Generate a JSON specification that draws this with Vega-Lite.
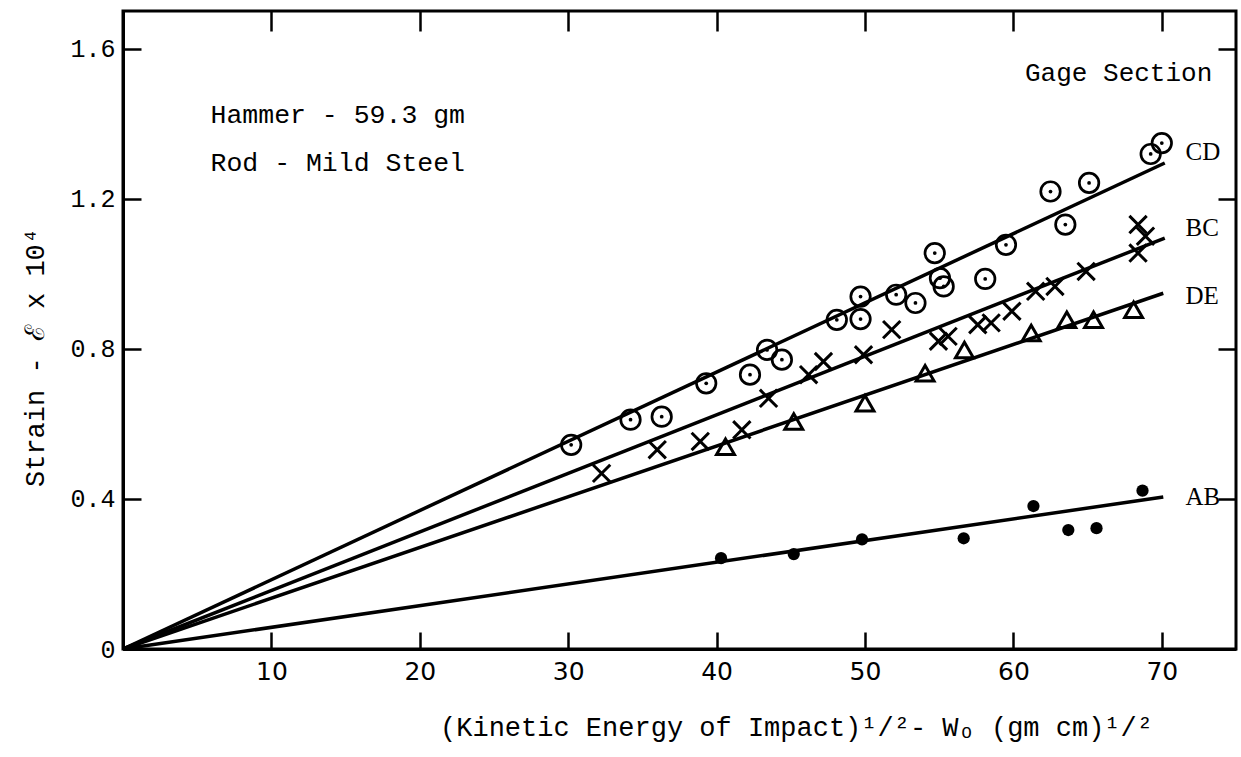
{
  "$schema": "https://vega.github.io/schema/vega-lite/v6.json",
  "width": 1113,
  "height": 638,
  "autosize": "none",
  "padding": {"left": 123, "top": 11, "right": 5, "bottom": 108},
  "background": "white",
  "config": {
    "view": {"stroke": "black", "strokeWidth": 3},
    "axis": {
      "domainColor": "black", "domainWidth": 3, "tickColor": "black", "tickWidth": 2.5,
      "labelColor": "black", "titleColor": "black", "grid": false
    }
  },
  "datasets": {
    "pts": [
      {"series": "CD", "x": 30.2, "y": 0.544},
      {"series": "CD", "x": 34.2, "y": 0.611},
      {"series": "CD", "x": 36.3, "y": 0.619},
      {"series": "CD", "x": 39.3, "y": 0.708},
      {"series": "CD", "x": 42.25, "y": 0.731},
      {"series": "CD", "x": 43.4, "y": 0.797},
      {"series": "CD", "x": 44.4, "y": 0.771},
      {"series": "CD", "x": 48.1, "y": 0.877},
      {"series": "CD", "x": 49.7, "y": 0.939},
      {"series": "CD", "x": 49.7, "y": 0.879},
      {"series": "CD", "x": 52.1, "y": 0.944},
      {"series": "CD", "x": 53.4, "y": 0.922},
      {"series": "CD", "x": 54.7, "y": 1.055},
      {"series": "CD", "x": 55.05, "y": 0.988},
      {"series": "CD", "x": 55.3, "y": 0.966},
      {"series": "CD", "x": 58.1, "y": 0.986},
      {"series": "CD", "x": 59.5, "y": 1.077},
      {"series": "CD", "x": 62.5, "y": 1.219},
      {"series": "CD", "x": 63.5, "y": 1.131},
      {"series": "CD", "x": 65.1, "y": 1.242},
      {"series": "CD", "x": 69.25, "y": 1.319},
      {"series": "CD", "x": 70.0, "y": 1.348},
      {"series": "BC", "x": 32.25, "y": 0.468},
      {"series": "BC", "x": 36.0, "y": 0.531},
      {"series": "BC", "x": 38.9, "y": 0.553},
      {"series": "BC", "x": 41.7, "y": 0.584},
      {"series": "BC", "x": 43.5, "y": 0.668},
      {"series": "BC", "x": 46.2, "y": 0.731},
      {"series": "BC", "x": 47.2, "y": 0.766},
      {"series": "BC", "x": 49.9, "y": 0.784},
      {"series": "BC", "x": 51.8, "y": 0.851},
      {"series": "BC", "x": 54.95, "y": 0.82},
      {"series": "BC", "x": 55.6, "y": 0.833},
      {"series": "BC", "x": 57.6, "y": 0.864},
      {"series": "BC", "x": 58.5, "y": 0.869},
      {"series": "BC", "x": 59.9, "y": 0.9},
      {"series": "BC", "x": 61.5, "y": 0.953},
      {"series": "BC", "x": 62.8, "y": 0.966},
      {"series": "BC", "x": 64.9, "y": 1.006},
      {"series": "BC", "x": 68.4, "y": 1.131},
      {"series": "BC", "x": 68.9, "y": 1.1},
      {"series": "BC", "x": 68.4, "y": 1.055},
      {"series": "DE", "x": 40.6, "y": 0.539},
      {"series": "DE", "x": 45.2, "y": 0.606},
      {"series": "DE", "x": 50.0, "y": 0.655},
      {"series": "DE", "x": 54.05, "y": 0.735},
      {"series": "DE", "x": 56.7, "y": 0.797},
      {"series": "DE", "x": 61.2, "y": 0.842},
      {"series": "DE", "x": 63.6, "y": 0.877},
      {"series": "DE", "x": 65.4, "y": 0.877},
      {"series": "DE", "x": 68.1, "y": 0.904},
      {"series": "AB", "x": 40.3, "y": 0.242},
      {"series": "AB", "x": 45.2, "y": 0.253},
      {"series": "AB", "x": 49.8, "y": 0.292},
      {"series": "AB", "x": 56.65, "y": 0.295},
      {"series": "AB", "x": 61.35, "y": 0.381},
      {"series": "AB", "x": 63.7, "y": 0.317},
      {"series": "AB", "x": 65.6, "y": 0.322},
      {"series": "AB", "x": 68.7, "y": 0.422}
    ],
    "fits": [
      {"series": "CD", "x": 0, "y": 0},
      {"series": "CD", "x": 70.2, "y": 1.295},
      {"series": "BC", "x": 0, "y": 0},
      {"series": "BC", "x": 70.2, "y": 1.095},
      {"series": "DE", "x": 0, "y": 0},
      {"series": "DE", "x": 70.1, "y": 0.948},
      {"series": "AB", "x": 0, "y": 0},
      {"series": "AB", "x": 70.1, "y": 0.405}
    ],
    "seriesLabels": [
      {"text": "CD", "x": 71.6, "y": 1.323},
      {"text": "BC", "x": 71.6, "y": 1.123},
      {"text": "DE", "x": 71.6, "y": 0.941},
      {"text": "AB", "x": 71.6, "y": 0.405}
    ],
    "notes": [
      {"text": "Hammer - 59.3 gm", "x": 5.9, "y": 1.424},
      {"text": "Rod - Mild Steel", "x": 5.9, "y": 1.296}
    ],
    "heading": [
      {"text": "Gage Section", "x": 73.4, "y": 1.535}
    ]
  },
  "layer": [
    {
      "data": {"name": "fits"},
      "mark": {"type": "line", "color": "black", "strokeWidth": 3.5},
      "encoding": {
        "x": {
          "field": "x", "type": "quantitative",
          "scale": {"domain": [0, 75], "nice": false, "zero": true},
          "axis": {
            "orient": "bottom", "values": [10, 20, 30, 40, 50, 60, 70],
            "ticks": false, "labelPadding": 10,
            "labelFont": "Liberation Sans Narrow, DejaVu Sans", "labelFontSize": 25,
            "title": "(Kinetic Energy of Impact)¹/²- Wₒ (gm cm)¹/²",
            "titleFont": "Liberation Mono", "titleFontSize": 27, "titleFontWeight": "normal",
            "titleX": 673, "titleY": 86, "titleBaseline": "alphabetic"
          }
        },
        "y": {
          "field": "y", "type": "quantitative",
          "scale": {"domain": [0, 1.7], "nice": false},
          "axis": {
            "orient": "left", "values": [0, 0.4, 0.8, 1.2, 1.6],
            "labelExpr": "datum.value == 0 ? '0' : format(datum.value, '.1f')",
            "ticks": false, "labelPadding": 8,
            "labelFont": "Liberation Mono", "labelFontSize": 25,
            "title": "Strain - ℰ x 10⁴",
            "titleFont": "Liberation Mono", "titleFontSize": 27, "titleFontWeight": "normal",
            "titleX": -74, "titleY": 346
          }
        },
        "detail": {"field": "series"}
      }
    },
    {
      "data": {"name": "pts"},
      "transform": [{"filter": "datum.series == 'CD'"}],
      "mark": {"type": "point", "shape": "circle", "filled": false, "color": "black", "strokeWidth": 2.7, "size": 380, "opacity": 1},
      "encoding": {
        "x": {"field": "x", "type": "quantitative",
          "axis": {"orient": "top", "values": [10, 20, 30, 40, 50, 60, 70], "labels": false, "tickSize": 20, "offset": -20, "domain": false, "title": null}},
        "y": {"field": "y", "type": "quantitative",
          "axis": {"orient": "right", "values": [0.4, 0.8, 1.2, 1.6], "labels": false, "tickSize": 18, "offset": -18, "domain": false, "title": null}}
      }
    },
    {
      "data": {"name": "pts"},
      "transform": [{"filter": "datum.series == 'CD'"}],
      "mark": {"type": "point", "shape": "circle", "filled": true, "color": "black", "size": 14, "opacity": 1},
      "encoding": {
        "x": {"field": "x", "type": "quantitative",
          "axis": {"orient": "bottom", "values": [10, 20, 30, 40, 50, 60, 70], "labels": false, "tickSize": 17, "offset": -17, "domain": false, "title": null}},
        "y": {"field": "y", "type": "quantitative",
          "axis": {"orient": "left", "values": [0.4, 0.8, 1.2, 1.6], "labels": false, "tickSize": 18, "offset": -18, "domain": false, "title": null}}
      }
    },
    {
      "data": {"name": "pts"},
      "transform": [{"filter": "datum.series == 'BC'"}],
      "mark": {"type": "point", "shape": "M-1,-1L1,1M-1,1L1,-1", "filled": false, "color": "black", "strokeWidth": 3, "size": 300, "opacity": 1},
      "encoding": {
        "x": {"field": "x", "type": "quantitative", "axis": null},
        "y": {"field": "y", "type": "quantitative", "axis": null}
      }
    },
    {
      "data": {"name": "pts"},
      "transform": [{"filter": "datum.series == 'DE'"}],
      "mark": {"type": "point", "shape": "triangle-up", "filled": false, "color": "black", "strokeWidth": 3, "size": 320, "opacity": 1},
      "encoding": {
        "x": {"field": "x", "type": "quantitative", "axis": null},
        "y": {"field": "y", "type": "quantitative", "axis": null}
      }
    },
    {
      "data": {"name": "pts"},
      "transform": [{"filter": "datum.series == 'AB'"}],
      "mark": {"type": "point", "shape": "circle", "filled": true, "color": "black", "size": 150, "opacity": 1},
      "encoding": {
        "x": {"field": "x", "type": "quantitative", "axis": null},
        "y": {"field": "y", "type": "quantitative", "axis": null}
      }
    },
    {
      "data": {"name": "seriesLabels"},
      "mark": {"type": "text", "align": "left", "baseline": "middle", "font": "Liberation Serif", "fontSize": 25, "color": "black"},
      "encoding": {
        "x": {"field": "x", "type": "quantitative", "axis": null},
        "y": {"field": "y", "type": "quantitative", "axis": null},
        "text": {"field": "text"}
      }
    },
    {
      "data": {"name": "notes"},
      "mark": {"type": "text", "align": "left", "baseline": "middle", "font": "Liberation Mono", "fontSize": 26.5, "color": "black"},
      "encoding": {
        "x": {"field": "x", "type": "quantitative", "axis": null},
        "y": {"field": "y", "type": "quantitative", "axis": null},
        "text": {"field": "text"}
      }
    },
    {
      "data": {"name": "heading"},
      "mark": {"type": "text", "align": "right", "baseline": "middle", "font": "Liberation Mono", "fontSize": 26, "color": "black"},
      "encoding": {
        "x": {"field": "x", "type": "quantitative", "axis": null},
        "y": {"field": "y", "type": "quantitative", "axis": null},
        "text": {"field": "text"}
      }
    }
  ],
  "resolve": {"axis": {"x": "independent", "y": "independent"}}
}
